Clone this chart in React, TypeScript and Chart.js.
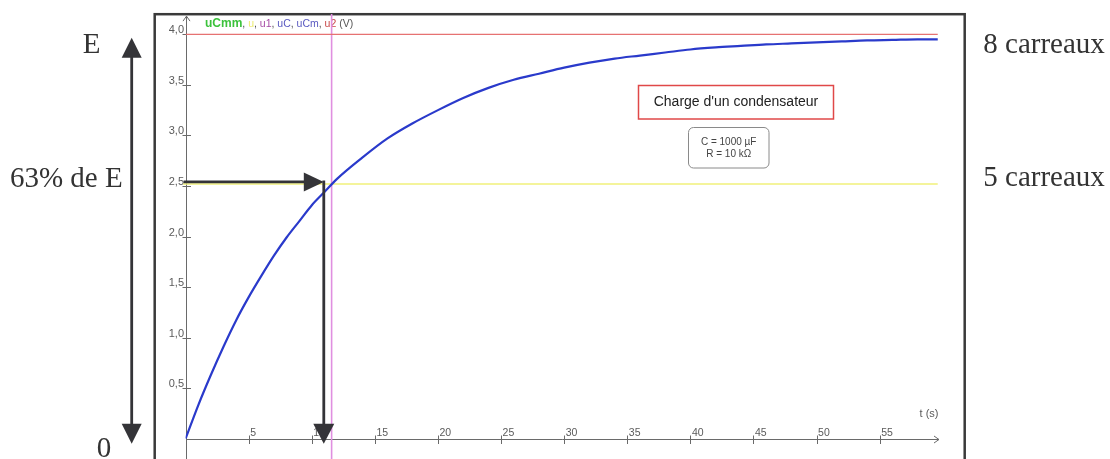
import React, { useEffect, useRef } from "react";
import { Chart, registerables } from "chart.js";

Chart.register(...registerables);

// ---- data ----
const timeS = [0, 1, 2, 3, 4, 5, 6, 7, 8, 9, 10, 11, 12, 14, 16, 18, 20, 22, 24, 26, 28, 30, 32, 34, 36, 38, 40, 42, 44, 46, 48, 50, 52, 54, 56, 58, 59.6];
const uCVolts = [0.0, 0.33, 0.63, 0.91, 1.17, 1.4, 1.61, 1.81, 1.99, 2.15, 2.31, 2.44, 2.57, 2.78, 2.97, 3.12, 3.25, 3.37, 3.47, 3.55, 3.61, 3.67, 3.72, 3.76, 3.79, 3.82, 3.85, 3.87, 3.885, 3.9, 3.91, 3.92, 3.93, 3.94, 3.945, 3.95, 3.95];
const E_VOLTS = 4.0;
const E63_VOLTS = 2.52;
const TAU_MARK_S = 11.57;
const ARROW_T_S = 10.95;
const ARROW_V = 2.54;
const T_END_S = 59.6;

const xTickValues = [5, 10, 15, 20, 25, 30, 35, 40, 45, 50, 55];
const xTickLabels = ["5", "10", "15", "20", "25", "30", "35", "40", "45", "50", "55"];
const yTickValues = [0.5, 1.0, 1.5, 2.0, 2.5, 3.0, 3.5, 4.0];
const yTickLabels = ["0,5", "1,0", "1,5", "2,0", "2,5", "3,0", "3,5", "4,0"];

const legendNames = ["uCmm", "u", "u1", "uC", "uCm", "u2"];
const legendUnit = " (V)";
const xAxisTitle = "t (s)";
const boxTitle = "Charge d'un condensateur";
const boxLines = ["C = 1000 µF", "R = 10 kΩ"];
const leftLabels = ["E", "63% de E", "0"];
const rightLabels = ["8 carreaux", "5 carreaux"];

// ---- styles ----
const legendColors = ["#3cc23c", "#ecec70", "#a54aa5", "#5858c0", "#5858c0", "#c84848"];
const SANS = "'Liberation Sans', Arial, sans-serif";
const SERIF = "'Liberation Serif', 'Times New Roman', serif";
const DARK = "#343438";

function arrowHead(ctx: CanvasRenderingContext2D, tipX: number, tipY: number, dir: "up" | "down" | "right", len: number, half: number) {
  ctx.beginPath();
  if (dir === "right") {
    ctx.moveTo(tipX, tipY);
    ctx.lineTo(tipX - len, tipY - half);
    ctx.lineTo(tipX - len, tipY + half);
  } else if (dir === "down") {
    ctx.moveTo(tipX, tipY);
    ctx.lineTo(tipX - half, tipY - len);
    ctx.lineTo(tipX + half, tipY - len);
  } else {
    ctx.moveTo(tipX, tipY);
    ctx.lineTo(tipX - half, tipY + len);
    ctx.lineTo(tipX + half, tipY + len);
  }
  ctx.closePath();
  ctx.fill();
}

const backgroundPlugin = {
  id: "backgroundDecor",
  beforeDatasetsDraw(chart: any) {
    const ctx: CanvasRenderingContext2D = chart.ctx;
    const xs = chart.scales.x;
    const ys = chart.scales.y;
    const x0 = Math.round(xs.getPixelForValue(0)) + 0.5;
    const y0 = Math.round(ys.getPixelForValue(0)) + 0.5;
    const xEnd = xs.right;
    const yTop = ys.getPixelForValue(4.18);
    ctx.save();
    ctx.fillStyle = "#ffffff";
    ctx.fillRect(0, 0, chart.width, chart.height);
    // frame
    ctx.strokeStyle = "#3a3a3a";
    ctx.lineWidth = 2.5;
    ctx.strokeRect(154.7, 14.2, 810, 470);

    // axes
    ctx.strokeStyle = "#6a6a6a";
    ctx.lineWidth = 1;
    ctx.beginPath();
    ctx.moveTo(x0, yTop);
    ctx.lineTo(x0, chart.height);
    ctx.moveTo(x0, y0);
    ctx.lineTo(xEnd, y0);
    ctx.moveTo(x0 - 3.5, yTop + 5);
    ctx.lineTo(x0, yTop);
    ctx.lineTo(x0 + 3.5, yTop + 5);
    ctx.moveTo(xEnd - 5, y0 - 3.5);
    ctx.lineTo(xEnd, y0);
    ctx.lineTo(xEnd - 5, y0 + 3.5);
    ctx.stroke();

    // ticks
    ctx.beginPath();
    xTickValues.forEach((v) => {
      const px = Math.round(xs.getPixelForValue(v)) + 0.5;
      ctx.moveTo(px, y0 - 4);
      ctx.lineTo(px, y0 + 4.5);
    });
    yTickValues.forEach((v) => {
      const py = Math.round(ys.getPixelForValue(v)) + 0.5;
      ctx.moveTo(x0 - 4, py);
      ctx.lineTo(x0 + 4.5, py);
    });
    ctx.stroke();

    // tick labels
    ctx.fillStyle = "#5a5a5a";
    ctx.font = `10.5px ${SANS}`;
    ctx.textAlign = "left";
    ctx.textBaseline = "alphabetic";
    xTickValues.forEach((v, i) => {
      const px = xs.getPixelForValue(v);
      ctx.fillText(xTickLabels[i], px + 1.5, y0 - 4);
    });
    ctx.font = `11px ${SANS}`;
    ctx.textAlign = "right";
    yTickValues.forEach((v, i) => {
      const py = ys.getPixelForValue(v);
      ctx.fillText(yTickLabels[i], x0 - 2.5, py - 1);
    });
    ctx.font = `11px ${SANS}`;
    ctx.textAlign = "right";
    ctx.fillText(xAxisTitle, xEnd - 0.5, y0 - 23);

    // legend (series names)
    let lx = 205;
    const ly = 27;
    ctx.textAlign = "left";
    legendNames.forEach((name, i) => {
      ctx.font = i === 0 ? `bold 12px ${SANS}` : `10.5px ${SANS}`;
      ctx.fillStyle = legendColors[i];
      ctx.fillText(name, lx, ly);
      lx += ctx.measureText(name).width;
      ctx.font = `10.5px ${SANS}`;
      ctx.fillStyle = "#555";
      const sep = i < legendNames.length - 1 ? ", " : legendUnit;
      ctx.fillText(sep, lx, ly);
      lx += ctx.measureText(sep).width;
    });

    // annotation boxes
    ctx.strokeStyle = "#e04848";
    ctx.lineWidth = 1.5;
    ctx.strokeRect(638.5, 85.5, 195, 33.5);
    ctx.fillStyle = "#222";
    ctx.font = `14px ${SANS}`;
    ctx.textAlign = "center";
    ctx.textBaseline = "middle";
    ctx.fillText(boxTitle, 736, 102.5);

    ctx.strokeStyle = "#8a8a8a";
    ctx.lineWidth = 1;
    ctx.beginPath();
    (ctx as any).roundRect(688.5, 127.5, 80.5, 40.5, 5);
    ctx.stroke();
    ctx.fillStyle = "#444";
    ctx.font = `10px ${SANS}`;
    ctx.fillText(boxLines[0], 728.7, 142);
    ctx.fillText(boxLines[1], 728.7, 154.5);
    ctx.restore();
  },
  afterDatasetsDraw(chart: any) {
    const ctx: CanvasRenderingContext2D = chart.ctx;
    const xs = chart.scales.x;
    const ys = chart.scales.y;
    const x0 = xs.getPixelForValue(0);
    const ax = xs.getPixelForValue(ARROW_T_S);
    const ay = ys.getPixelForValue(ARROW_V);
    const yBottomTip = ys.getPixelForValue(-0.05);
    ctx.save();
    ctx.fillStyle = DARK;
    ctx.strokeStyle = DARK;
    ctx.lineWidth = 2.8;
    ctx.beginPath();
    ctx.moveTo(x0 - 2, ay);
    ctx.lineTo(ax - 18, ay);
    ctx.stroke();
    arrowHead(ctx, ax, ay, "right", 20, 9.5);
    ctx.beginPath();
    ctx.moveTo(ax, ay - 1.4);
    ctx.lineTo(ax, yBottomTip - 18);
    ctx.stroke();
    arrowHead(ctx, ax, yBottomTip, "down", 20, 10.5);

    const lxp = 131.7;
    const topTip = ys.getPixelForValue(E_VOLTS) + 3.5;
    ctx.beginPath();
    ctx.moveTo(lxp, topTip + 18);
    ctx.lineTo(lxp, yBottomTip - 18);
    ctx.stroke();
    arrowHead(ctx, lxp, topTip, "up", 20, 10);
    arrowHead(ctx, lxp, yBottomTip, "down", 20, 10);

    ctx.fillStyle = "#333";
    ctx.font = `29px ${SERIF}`;
    ctx.textBaseline = "alphabetic";
    ctx.textAlign = "left";
    ctx.fillText(leftLabels[0], 82.7, 52.5);
    ctx.textAlign = "right";
    ctx.fillText(leftLabels[1], 122.7, 186.5);
    ctx.textAlign = "left";
    ctx.fillText(leftLabels[2], 96.7, 456.5);
    ctx.fillText(rightLabels[0], 983.3, 53.3);
    ctx.fillText(rightLabels[1], 983.3, 186.3);
    ctx.restore();
  },
};

export default function App() {
  const canvasRef = useRef<HTMLCanvasElement | null>(null);

  useEffect(() => {
    if (!canvasRef.current) return;
    const curve = timeS.map((t, i) => ({ x: t, y: uCVolts[i] }));
    const chart = new Chart(canvasRef.current, {
      type: "scatter",
      data: {
        datasets: [
          {
            label: "uC",
            data: curve,
            showLine: true,
            borderColor: "#2a3acb",
            borderWidth: 2.2,
            pointRadius: 0,
            cubicInterpolationMode: "monotone",
          } as any,
          {
            label: "E",
            data: [
              { x: 0, y: E_VOLTS },
              { x: T_END_S, y: E_VOLTS },
            ],
            showLine: true,
            borderColor: "#e67272",
            borderWidth: 1.2,
            pointRadius: 0,
          },
          {
            label: "63% E",
            data: [
              { x: -0.2, y: E63_VOLTS },
              { x: T_END_S, y: E63_VOLTS },
            ],
            showLine: true,
            borderColor: "#f0f07a",
            borderWidth: 1.6,
            pointRadius: 0,
            clip: false,
          } as any,
          {
            label: "tau",
            data: [
              { x: TAU_MARK_S, y: -0.2 },
              { x: TAU_MARK_S, y: 4.2 },
            ],
            showLine: true,
            borderColor: "#e08fe0",
            borderWidth: 1.6,
            pointRadius: 0,
            clip: false,
          } as any,
        ],
      },
      options: {
        animation: false,
        responsive: false,
        maintainAspectRatio: false,
        devicePixelRatio: 1,
        layout: { padding: { left: 185.6, right: 171, top: 14.1, bottom: 20.3 } },
        scales: {
          x: { type: "linear", min: 0, max: 59.7, display: false },
          y: { type: "linear", min: 0, max: 4.2, display: false },
        },
        plugins: {
          legend: { display: false },
          tooltip: { enabled: false },
        },
      },
      plugins: [backgroundPlugin],
    });
    return () => chart.destroy();
  }, []);

  return (
    <div style={{ position: "fixed", left: 0, top: 0, width: 1110, height: 459, background: "#fff" }}>
      <canvas ref={canvasRef} width={1110} height={459} style={{ display: "block", width: 1110, height: 459 }} />
    </div>
  );
}
